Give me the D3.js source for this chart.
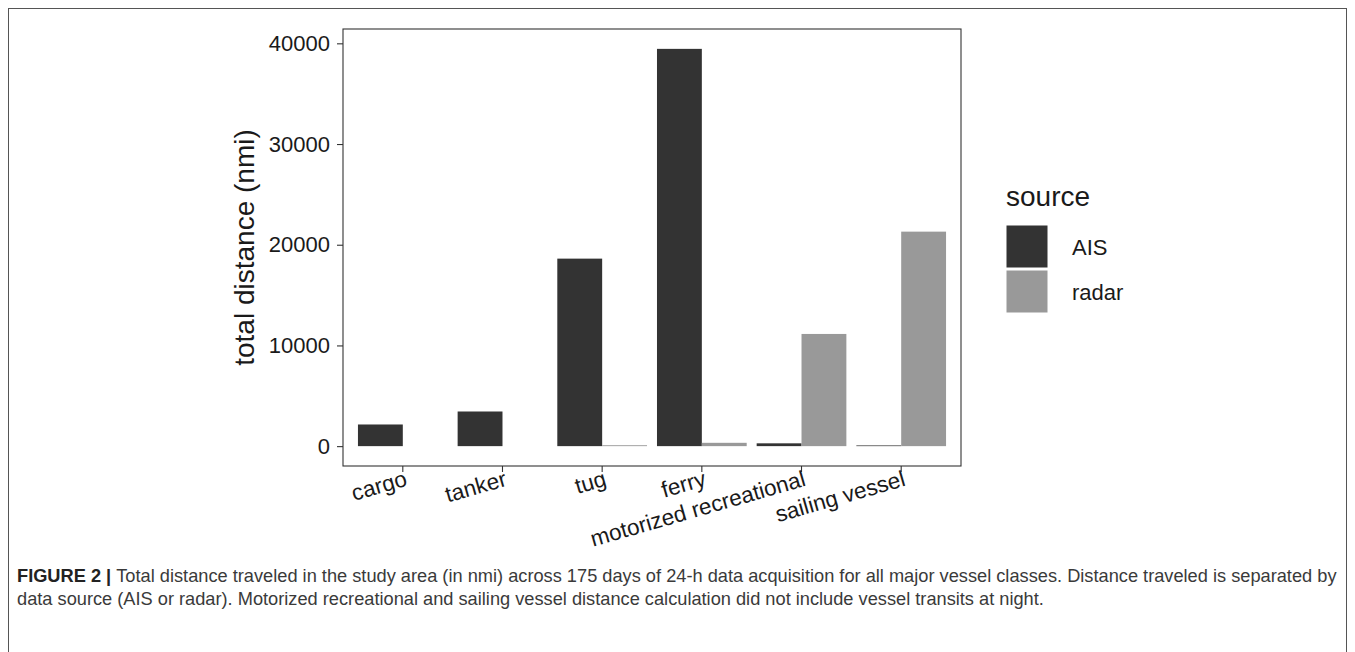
<!DOCTYPE html>
<html>
<head>
<meta charset="utf-8">
<script src="https://cdn.jsdelivr.net/npm/d3@7"></script>
<style>
  html, body { margin: 0; padding: 0; background: #fff; }
  svg { display: block; font-family: "Liberation Sans", Arial, sans-serif; }
</style>
</head>
<body>
<svg id="chart" width="1355" height="652"></svg>
<script>
// Vessel classes and total distance (nmi) per data source
const categories = ["cargo", "tanker", "tug", "ferry", "motorized recreational", "sailing vessel"];
const sources = ["AIS", "radar"];
const aisValues = [2150, 3440, 18620, 39450, 280, 70];
const radarValues = [0, 0, 90, 330, 11140, 21300];
const yTicks = [0, 10000, 20000, 30000, 40000];
const sourceColors = ["#333333", "#999999"];

const captionLines = [
  "Total distance traveled in the study area (in nmi) across 175 days of 24-h data acquisition for all major vessel classes. Distance traveled is separated by",
  "data source (AIS or radar). Motorized recreational and sailing vessel distance calculation did not include vessel transits at night."
];

const rows = categories.map((c, i) => ({ category: c, values: [aisValues[i], radarValues[i]] }));

const svg = d3.select("#chart");

// Outer figure frame
svg.append("rect")
  .attr("x", 8.5).attr("y", 8.5)
  .attr("width", 1338).attr("height", 700)
  .attr("fill", "none").attr("stroke", "#555").attr("stroke-width", 1);

const panel = { left: 343, right: 961, top: 29, bottom: 466 };

const x = d3.scaleBand()
  .domain(categories)
  .range([panel.left, panel.right])
  .paddingInner(0.1)
  .paddingOuter(0.15);

const x1 = d3.scaleBand()
  .domain(sources)
  .range([0, x.bandwidth()]);

const maxVal = d3.max([...aisValues, ...radarValues]);
const y = d3.scaleLinear()
  .domain([-0.05 * maxVal, 1.05 * maxVal])
  .range([panel.bottom, panel.top]);

const color = d3.scaleOrdinal().domain(sources).range(sourceColors);

// Bars
const groups = svg.append("g")
  .selectAll("g")
  .data(rows)
  .join("g")
  .attr("transform", d => `translate(${x(d.category)},0)`);

groups.selectAll("rect")
  .data(d => d.values.map((v, j) => ({ source: sources[j], value: v })))
  .join("rect")
  .attr("x", d => x1(d.source))
  .attr("width", x1.bandwidth())
  .attr("y", d => y(Math.max(0, d.value)))
  .attr("height", d => Math.abs(y(0) - y(d.value)))
  .attr("fill", d => color(d.source));

// Panel border
svg.append("rect")
  .attr("x", panel.left).attr("y", panel.top)
  .attr("width", panel.right - panel.left)
  .attr("height", panel.bottom - panel.top)
  .attr("fill", "none").attr("stroke", "#333").attr("stroke-width", 1.1);

// Y axis
const yAxis = svg.append("g")
  .attr("transform", `translate(${panel.left},0)`)
  .call(d3.axisLeft(y).tickValues(yTicks).tickFormat(d3.format("d")).tickSize(6).tickPadding(7));
yAxis.select(".domain").remove();
yAxis.selectAll(".tick line").attr("stroke", "#333").attr("stroke-width", 1.1);
yAxis.selectAll(".tick text")
  .attr("fill", "#1a1a1a")
  .style("font-size", "22px")
  .style("font-family", "'Liberation Sans', Arial, sans-serif");

// X axis
const xAxis = svg.append("g")
  .attr("transform", `translate(0,${panel.bottom})`)
  .call(d3.axisBottom(x).tickSize(6).tickPadding(0));
xAxis.select(".domain").remove();
xAxis.selectAll(".tick line").attr("stroke", "#333").attr("stroke-width", 1.1);
xAxis.selectAll(".tick text")
  .attr("fill", "#1a1a1a")
  .attr("text-anchor", "end")
  .attr("y", 0)
  .attr("dy", 0)
  .attr("transform", "translate(1,4) rotate(-16)")
  .attr("dominant-baseline", "hanging")
  .style("font-size", "22.5px")
  .style("font-family", "'Liberation Sans', Arial, sans-serif");

// Y axis title
svg.append("text")
  .attr("transform", `translate(254,${(panel.top + panel.bottom) / 2}) rotate(-90)`)
  .attr("text-anchor", "middle")
  .attr("fill", "#1a1a1a")
  .style("font-size", "28px")
  .text("total distance (nmi)");

// Legend
const legend = svg.append("g").attr("transform", "translate(1006,0)");
legend.append("text")
  .attr("x", 0).attr("y", 206)
  .attr("fill", "#1a1a1a")
  .style("font-size", "28px")
  .text("source");
const keys = legend.selectAll("g.key")
  .data(sources)
  .join("g")
  .attr("class", "key")
  .attr("transform", (d, i) => `translate(0,${225 + i * 45})`);
keys.append("rect")
  .attr("x", 0.5).attr("y", 0.5)
  .attr("width", 41).attr("height", 42)
  .attr("fill", d => color(d));
keys.append("text")
  .attr("x", 66).attr("y", 22)
  .attr("dominant-baseline", "central")
  .attr("fill", "#1a1a1a")
  .style("font-size", "22px")
  .text(d => d);

// Caption, sized so the first line spans the frame width
const cap = svg.append("g").style("font-size", "18px");
const line1 = cap.append("text").attr("x", 17).attr("y", 582).attr("fill", "#3a3a3a");
line1.append("tspan").attr("font-weight", "bold").attr("fill", "#222").text("FIGURE 2 | ");
line1.append("tspan").text(captionLines[0]);
cap.append("text").attr("x", 17).attr("y", 605).attr("fill", "#3a3a3a").text(captionLines[1]);
const w = line1.node().getComputedTextLength();
if (w > 0) cap.style("font-size", (18 * 1320 / w).toFixed(2) + "px");
</script>
</body>
</html>
